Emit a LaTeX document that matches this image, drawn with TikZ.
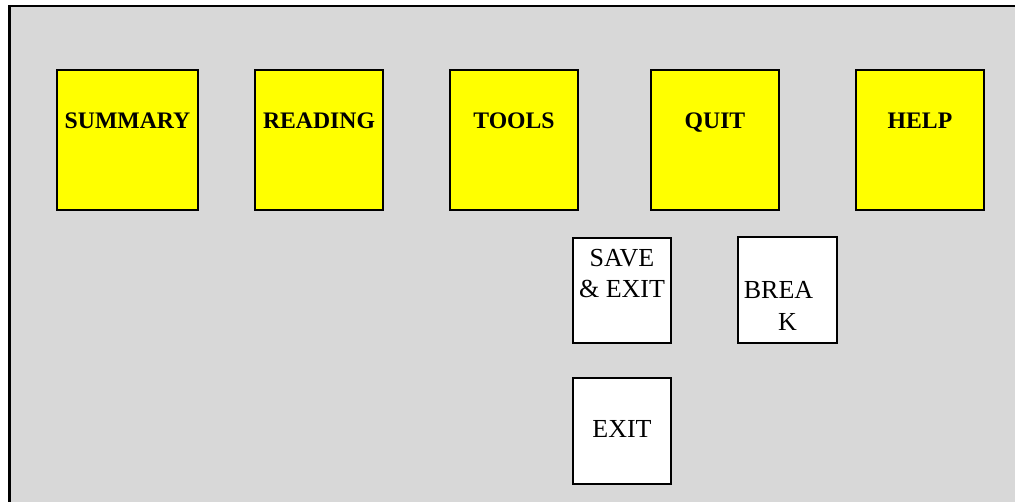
\documentclass[tikz,border=0pt]{standalone}
\usepackage{fontspec}
\setmainfont{Liberation Serif}
\usetikzlibrary{positioning}
\definecolor{menuYellow}{RGB}{255,255,0}
\definecolor{panelGray}{RGB}{216,216,216}

\begin{document}
\begin{tikzpicture} [x=1pt, y=-1pt, node distance = 55pt]
            % Set primary nodes
            \tikzset{
                menuNode/.style={
                        draw,
                        rectangle,
                        fill=menuYellow,
                        line width=2pt,
                        inner sep=0pt,
                        minimum width=128pt,
                        text height=59pt,
                        text depth=81pt,
                        font=\fontsize{23.7}{28}\selectfont\bfseries
                    }
            }
            \tikzset{
                actionNode/.style={
                        draw,
                        rectangle,
                        fill=white,
                        line width=2pt,
                        inner sep=0pt,
                        minimum width=98pt,
                        align=center,
                        font=\fontsize{26}{31.5}\selectfont
                    }
            }
            % Panel
            \useasboundingbox (0,0) rectangle (1015,502);
            \draw[fill=panelGray, line width=2.5pt] (9.5,6) rectangle (1040,530);
            % Placing nodes
            \node[menuNode, minimum width=141pt, anchor=north west](summary) at (56,69){SUMMARY};
            \node[menuNode, right = 55pt of summary](reading){READING};
            \node[menuNode, right = 65pt of reading](tools){TOOLS};
            \node[menuNode, right = 71pt of tools](quit){QUIT};
            \node[menuNode, right = 75pt of quit](help){HELP};
            \node[actionNode, text height=60pt, text depth=45pt, anchor=north west](saveexit) at (572,237){SAVE\\\& EXIT};
            \node[actionNode, text height=60pt, text depth=46pt, below = 33pt of saveexit](exit){EXIT};
            \node[actionNode, minimum width=99pt, text height=93pt, text depth=13pt, right = 65pt of saveexit](break){BREA\kern18pt\\K};
        \end{tikzpicture}
\end{document}
